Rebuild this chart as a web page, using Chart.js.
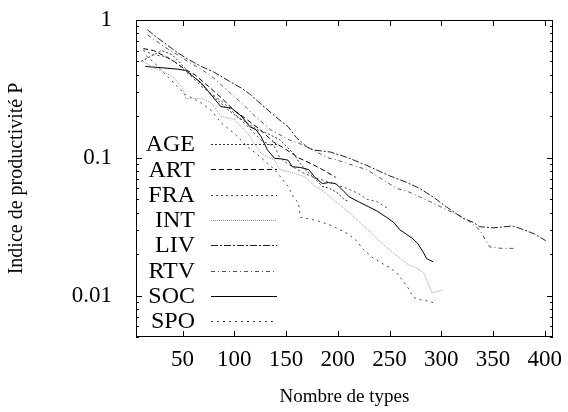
<!DOCTYPE html>
<html>
<head>
<meta charset="utf-8">
<script src="https://cdn.jsdelivr.net/npm/chart.js@4"></script>
<style>
  html, body { margin: 0; background: #fff; }
  #wrap { width: 568px; height: 412px; }
</style>
</head>
<body>
<div id="wrap"><canvas id="chart1"></canvas></div>
<script>
// series (x = nombre de types, y = indice P)
const names = ["AGE", "ART", "FRA", "INT", "LIV", "RTV", "SOC", "SPO"];

const ageX = [10, 20, 30, 40, 52, 62, 72, 82, 92, 102, 112, 122, 132, 144, 157, 163, 170, 176, 185, 192, 199, 206, 211];
const ageY = [0.5, 0.55, 0.6, 0.56, 0.45, 0.38, 0.32, 0.27, 0.23, 0.2, 0.18, 0.16, 0.15, 0.135, 0.108, 0.092, 0.08, 0.073, 0.062, 0.06, 0.056, 0.05, 0.048];

const artX = [12, 22, 32, 42, 52, 62, 75, 88, 100, 112, 125, 138, 150, 162, 175, 188, 198];
const artY = [0.62, 0.6, 0.55, 0.5, 0.44, 0.4, 0.33, 0.27, 0.22, 0.19, 0.16, 0.13, 0.115, 0.1, 0.09, 0.08, 0.072];

const fraX = [12, 22, 35, 45, 52, 60, 68, 78, 90, 100, 113, 126, 139, 144, 152, 166, 175, 185, 198, 211, 220, 228, 238, 248];
const fraY = [0.6, 0.56, 0.54, 0.48, 0.43, 0.38, 0.33, 0.29, 0.25, 0.21, 0.168, 0.134, 0.12, 0.1, 0.09, 0.078, 0.073, 0.069, 0.064, 0.059, 0.055, 0.05, 0.048, 0.043];

const intX = [12, 22, 32, 42, 50, 53, 60, 68, 78, 87, 100, 113, 126, 139, 144, 156, 168, 178, 185, 198, 211, 225, 240, 255, 267, 275, 283, 291, 296, 302];
const intY = [0.5, 0.45, 0.42, 0.38, 0.32, 0.27, 0.27, 0.27, 0.25, 0.2, 0.19, 0.15, 0.107, 0.096, 0.082, 0.078, 0.073, 0.062, 0.058, 0.048, 0.04, 0.032, 0.025, 0.02, 0.017, 0.016, 0.0146, 0.0105, 0.0107, 0.011];

const livX = [16, 25, 35, 45, 55, 68, 80, 95, 107, 115, 122, 130, 143, 152, 160, 170, 176, 193, 210, 228, 240, 250, 265, 279, 292, 305, 315, 322, 331, 337, 350, 360, 369, 380, 390, 401];
const livY = [0.85, 0.75, 0.66, 0.58, 0.52, 0.46, 0.42, 0.36, 0.32, 0.29, 0.26, 0.23, 0.19, 0.168, 0.14, 0.12, 0.114, 0.11, 0.1, 0.088, 0.08, 0.074, 0.067, 0.06, 0.052, 0.044, 0.039, 0.036, 0.034, 0.0316, 0.031, 0.0315, 0.032, 0.03, 0.028, 0.025];

const rtvX = [16, 25, 35, 45, 55, 68, 80, 95, 107, 120, 135, 153, 165, 176, 190, 198, 211, 228, 240, 257, 270, 279, 292, 305, 315, 325, 337, 347, 358, 370];
const rtvY = [0.78, 0.7, 0.62, 0.56, 0.5, 0.44, 0.38, 0.3, 0.25, 0.2, 0.16, 0.135, 0.125, 0.114, 0.1, 0.097, 0.09, 0.082, 0.072, 0.06, 0.056, 0.052, 0.047, 0.042, 0.039, 0.0355, 0.03, 0.0225, 0.022, 0.022];

const socX = [14, 30, 45, 53, 60, 68, 77, 87, 97, 107, 115, 121, 126, 132, 139, 146, 152, 156, 164, 172, 178, 185, 191, 198, 205, 211, 220, 230, 238, 247, 254, 260, 266, 272, 277, 282, 286, 292];
const socY = [0.46, 0.45, 0.44, 0.43, 0.39, 0.35, 0.29, 0.235, 0.23, 0.2, 0.168, 0.16, 0.142, 0.114, 0.099, 0.098, 0.096, 0.086, 0.085, 0.082, 0.072, 0.065, 0.066, 0.065, 0.058, 0.052, 0.048, 0.044, 0.041, 0.037, 0.034, 0.03, 0.028, 0.026, 0.024, 0.021, 0.0185, 0.0176];

const spoX = [15, 25, 35, 45, 52, 60, 68, 78, 87, 100, 113, 126, 133, 139, 152, 157, 162, 164, 172, 180, 195, 210, 218, 225, 233, 241, 250, 257, 267, 273, 280, 288, 294];
const spoY = [0.55, 0.47, 0.39, 0.33, 0.29, 0.27, 0.25, 0.22, 0.18, 0.15, 0.12, 0.1, 0.09, 0.082, 0.062, 0.052, 0.047, 0.037, 0.036, 0.035, 0.032, 0.028, 0.025, 0.0215, 0.019, 0.0174, 0.016, 0.0146, 0.0117, 0.0097, 0.0093, 0.0091, 0.0088];

const xTicks = [50, 100, 150, 200, 250, 300, 350, 400];
const yTicks = [0.005, 0.006, 0.007, 0.008, 0.009,
                0.01, 0.02, 0.03, 0.04, 0.05, 0.06, 0.07, 0.08, 0.09,
                0.1, 0.2, 0.3, 0.4, 0.5, 0.6, 0.7, 0.8, 0.9, 1];
const yLabels = [0.01, 0.1, 1];

const seriesX = [ageX, artX, fraX, intX, livX, rtvX, socX, spoX];
const seriesY = [ageY, artY, fraY, intY, livY, rtvY, socY, spoY];

// gnuplot-like monochrome line styles
const lineStyles = [
  { color: '#333', dash: [2, 2] },
  { color: '#000', dash: [5, 3] },
  { color: '#444', dash: [2, 3] },
  { color: '#999', dash: [1, 1] },
  { color: '#222', dash: [7, 2, 2, 2] },
  { color: '#555', dash: [4, 3, 1, 3] },
  { color: '#000', dash: [] },
  { color: '#444', dash: [2, 4] }
];

const serif = "'Liberation Serif', 'DejaVu Serif', serif";

const datasets = names.map((n, i) => ({
  label: n,
  data: seriesX[i].map((x, k) => ({ x: x, y: seriesY[i][k] })),
  borderColor: lineStyles[i].color,
  borderDash: lineStyles[i].dash,
  borderWidth: 1,
  pointRadius: 0,
  fill: false,
  tension: 0
}));

// frame with inward ticks on all four sides, as gnuplot draws it
const frameTicks = {
  id: 'frameTicks',
  afterDraw(chart) {
    const { ctx, chartArea: a, scales } = chart;
    ctx.save();
    ctx.strokeStyle = '#000';
    ctx.lineWidth = 1;
    ctx.strokeRect(a.left + 0.5, a.top + 0.5, a.right - a.left - 1, a.bottom - a.top - 1);
    ctx.beginPath();
    scales.x.ticks.forEach(t => {
      const px = Math.round(scales.x.getPixelForValue(t.value)) + 0.5;
      ctx.moveTo(px, a.bottom); ctx.lineTo(px, a.bottom - 6);
      ctx.moveTo(px, a.top); ctx.lineTo(px, a.top + 6);
    });
    scales.y.ticks.forEach(t => {
      const py = Math.round(scales.y.getPixelForValue(t.value)) + 0.5;
      const len = yLabels.includes(t.value) ? 6 : 3;
      ctx.moveTo(a.left, py); ctx.lineTo(a.left + len, py);
      ctx.moveTo(a.right, py); ctx.lineTo(a.right - len, py);
    });
    ctx.stroke();
    ctx.restore();
  }
};

// key inside the plot: right-aligned name, then a sample of the line
const insideKey = {
  id: 'insideKey',
  afterDatasetsDraw(chart) {
    const { ctx, chartArea: a } = chart;
    ctx.save();
    ctx.font = '24px ' + serif;
    ctx.textAlign = 'right';
    ctx.textBaseline = 'middle';
    chart.data.datasets.forEach((ds, i) => {
      const y = a.top + 124 + i * 25.3;
      ctx.fillStyle = '#000';
      ctx.fillText(ds.label, a.left + 59, y + 1);
      ctx.beginPath();
      ctx.strokeStyle = ds.borderColor;
      ctx.lineWidth = 1;
      ctx.setLineDash(ds.borderDash);
      ctx.moveTo(a.left + 75, Math.round(y) + 0.5);
      ctx.lineTo(a.left + 141, Math.round(y) + 0.5);
      ctx.stroke();
    });
    ctx.restore();
  }
};

new Chart("chart1", {
  type: "line",
  data: { datasets: datasets },
  plugins: [frameTicks, insideKey],
  options: {
    responsive: true,
    maintainAspectRatio: false,
    animation: false,
    layout: { padding: { top: 20, right: 15, left: 0, bottom: 0 } },
    plugins: {
      legend: { display: false },
      tooltip: { enabled: false }
    },
    scales: {
      x: {
        type: 'linear',
        min: 5,
        max: 408,
        afterBuildTicks: (axis) => { axis.ticks = xTicks.map(v => ({ value: v })); },
        afterFit: (axis) => { axis.height = 75; axis.paddingLeft = 0; axis.paddingRight = 0; },
        grid: { display: false },
        border: { display: false },
        ticks: { color: '#000', font: { family: serif, size: 23 }, padding: 1, maxRotation: 0, autoSkip: false },
        title: { display: true, text: 'Nombre de types', color: '#000', font: { family: serif, size: 19 }, padding: { top: 14 } }
      },
      y: {
        type: 'logarithmic',
        min: 0.005,
        max: 1,
        afterBuildTicks: (axis) => { axis.ticks = yTicks.map(v => ({ value: v })); },
        afterFit: (axis) => { axis.width = 136; axis.paddingTop = 0; axis.paddingBottom = 0; },
        grid: { display: false },
        border: { display: false },
        ticks: {
          color: '#000',
          font: { family: serif, size: 23 },
          padding: 16,
          autoSkip: false,
          callback: (v) => yLabels.includes(v) ? String(v) : ''
        },
        title: { display: true, text: 'Indice de productivité P', color: '#000', font: { family: serif, size: 20 }, padding: { top: 5, bottom: 0 } }
      }
    }
  }
});
</script>
</body>
</html>
